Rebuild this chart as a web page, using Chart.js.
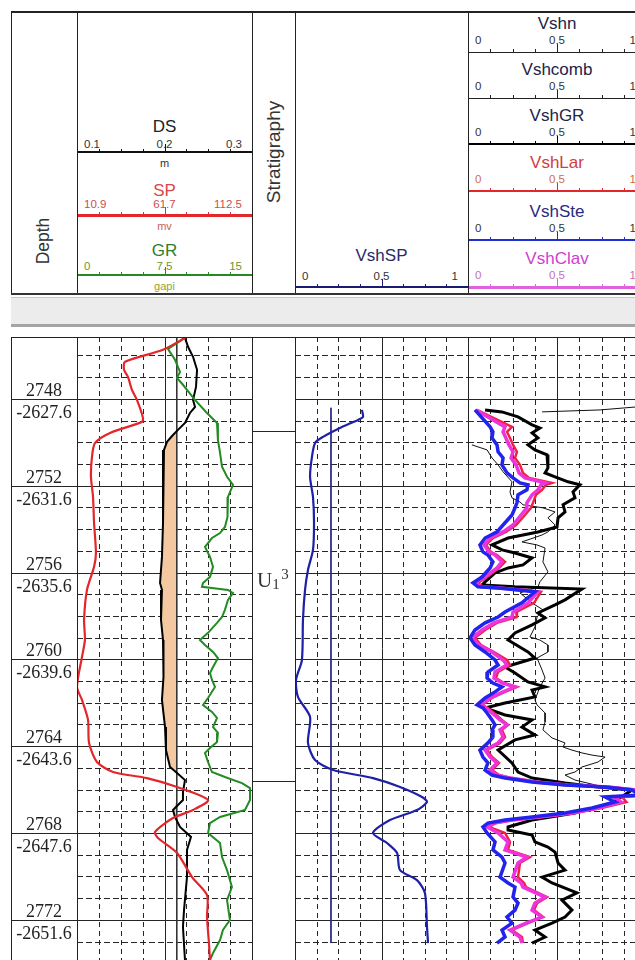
<!DOCTYPE html>
<html>
<head>
<meta charset="utf-8">
<title>Well log - shale volume</title>
<script src="https://cdn.jsdelivr.net/npm/chart.js@4.4.1/dist/chart.umd.min.js"></script>
<style>
  html, body { margin: 0; padding: 0; background: #fff; }
  #page { position: relative; width: 635px; height: 960px; overflow: hidden; background: #fff;
          font-family: "Liberation Sans", Arial, sans-serif; }
  .abs { position: absolute; }
  .t { position: absolute; line-height: 0; white-space: nowrap; }
  canvas { position: absolute; display: block; }
</style>
</head>
<body>
<div id="page"></div>
<script>
// ---------- data (depth in m) ----------
const dsRange = [0.1, 0.3];
const spRange = [10.9, 112.5];
const grRange = [0, 15];
const vshRange = [0, 1];

const mdMarks = [2748, 2752, 2756, 2760, 2764, 2768, 2772];
const tvdssMarks = [-2627.6, -2631.6, -2635.6, -2639.6, -2643.6, -2647.6, -2651.6];

const zoneTops = [2749.47, 2765.6];
const zoneLabelDepth = 2756.66;

const spDepth = [2745.19, 2745.74, 2746.29, 2746.66, 2746.99, 2747.59, 2748.05, 2748.88, 2749.06, 2749.57,
  2750.03, 2750.67, 2751.59, 2752.52, 2753.71, 2755.10, 2755.74, 2756.80, 2758.18, 2759.10,
  2759.89, 2761.27, 2761.87, 2762.79, 2763.85, 2764.73, 2765.19, 2765.47, 2765.88, 2766.48,
  2766.94, 2767.31, 2767.95, 2768.23, 2768.92, 2770.03, 2770.86, 2771.87, 2773.07, 2773.85];
const spValue = [73.6, 60.8, 38.8, 38.2, 40.5, 42.8, 45.7, 49.2, 48.6, 30.1,
  21.4, 19.6, 19.0, 20.2, 20.8, 21.9, 20.8, 16.7, 15.0, 15.5,
  13.8, 10.9, 13.8, 17.3, 17.9, 22.5, 31.8, 51.5, 69.0, 87.0,
  78.2, 66.6, 56.2, 57.9, 69.0, 77.7, 86.4, 86.4, 87.5, 88.1];

const grDepth = [2745.19, 2745.70, 2746.20, 2746.76, 2747.03, 2747.35, 2748.05, 2748.65, 2749.11, 2749.89,
  2750.49, 2751.13, 2751.59, 2751.96, 2752.52, 2752.98, 2753.44, 2753.90, 2754.18, 2754.41,
  2754.82, 2755.28, 2755.74, 2756.20, 2756.48, 2756.66, 2756.71, 2756.80, 2756.94, 2757.26,
  2757.72, 2758.05, 2758.32, 2758.78, 2759.11, 2759.34, 2759.66, 2759.94, 2760.35, 2760.63,
  2760.95, 2761.27, 2761.78, 2762.10, 2762.42, 2762.70, 2763.12, 2763.39, 2763.81, 2764.08,
  2764.31, 2764.73, 2765.19, 2765.42, 2765.70, 2765.93, 2766.48, 2766.94, 2767.26, 2767.54,
  2768.00, 2768.46, 2769.11, 2769.71, 2770.49, 2771.09, 2772.01, 2772.47, 2772.93, 2773.53, 2773.85];
const grValue = [9.26, 7.80, 8.40, 8.83, 8.57, 9.08, 10.11, 11.14, 12.00, 12.08,
  12.26, 12.43, 12.86, 13.37, 12.94, 12.86, 12.94, 12.68, 12.26, 11.57,
  10.97, 11.40, 11.66, 11.40, 10.80, 10.71, 11.57, 12.94, 13.37, 12.94,
  12.68, 12.43, 12.00, 11.23, 10.54, 10.97, 11.66, 12.08, 11.66, 11.40,
  11.57, 11.83, 11.23, 10.80, 11.57, 12.00, 11.66, 12.08, 12.00, 11.40,
  10.97, 11.23, 11.57, 12.68, 14.14, 14.83, 14.83, 14.40, 12.26, 11.40,
  11.23, 12.26, 12.43, 12.86, 13.28, 12.86, 13.11, 12.51, 12.26, 11.66, 11.40];

const dsDepth = [2745.19, 2745.60, 2746.06, 2746.66, 2747.45, 2748.05, 2748.37, 2748.65, 2749.11, 2749.43,
  2749.71, 2749.98, 2750.35, 2751.59, 2753.71, 2755.28, 2756.48, 2756.80, 2758.18, 2759.11,
  2760.03, 2760.81, 2761.87, 2763.12, 2764.18, 2764.96, 2765.24, 2765.56, 2766.11, 2766.48,
  2766.94, 2767.26, 2767.72, 2768.18, 2768.78, 2770.03, 2771.55, 2772.33, 2773.85];
const dsValue = [0.2234, 0.2269, 0.2326, 0.2372, 0.2360, 0.2326, 0.2349, 0.2291, 0.2234, 0.2154,
  0.2086, 0.2029, 0.1994, 0.1983, 0.1983, 0.1971, 0.1949, 0.1971, 0.1960, 0.1983,
  0.1994, 0.1983, 0.1971, 0.2006, 0.2017, 0.2063, 0.2143, 0.2234, 0.2211, 0.2211,
  0.2097, 0.2120, 0.2177, 0.2303, 0.2257, 0.2257, 0.2223, 0.2211, 0.2234];
const dsCutoff = 0.214;

const vshSPDepth = [2748.51, 2748.83, 2748.97, 2749.34, 2749.75, 2750.03, 2750.67, 2751.59, 2752.52, 2753.71,
  2754.96, 2755.88, 2756.80, 2758.18, 2760.03, 2760.95, 2761.73, 2762.65, 2763.85, 2764.64,
  2765.10, 2765.47, 2765.88, 2766.34, 2766.57, 2766.94, 2767.40, 2768.00, 2768.46, 2768.92,
  2769.71, 2770.17, 2770.76, 2772.33, 2773.07];
const vshSPValue = [0.387, 0.393, 0.364, 0.260, 0.162, 0.116, 0.098, 0.087, 0.104, 0.110,
  0.104, 0.075, 0.058, 0.046, 0.040, 0.006, 0.017, 0.087, 0.075, 0.116,
  0.220, 0.451, 0.607, 0.734, 0.763, 0.705, 0.549, 0.451, 0.532, 0.590,
  0.607, 0.705, 0.751, 0.763, 0.769];
const vshSPCutoff = 0.208;
const vshSPCutoffDepth = [2748.41, 2773.07];

const vshDepth = [2748.51, 2749.29, 2749.52, 2749.80, 2750.12, 2750.44, 2750.72, 2751.04, 2751.41, 2751.64,
  2751.87, 2751.96, 2752.19, 2752.42, 2752.79, 2753.02, 2753.35, 2753.81, 2754.13, 2754.41,
  2754.73, 2755.05, 2755.19, 2755.51, 2755.79, 2756.20, 2756.48, 2756.66, 2756.71, 2756.80,
  2756.89, 2757.40, 2757.82, 2758.05, 2758.32, 2758.65, 2759.01, 2759.34, 2759.66, 2760.03,
  2760.26, 2760.58, 2760.86, 2761.09, 2761.27, 2761.50, 2761.78, 2762.10, 2762.24, 2762.47,
  2762.79, 2763.02, 2763.25, 2763.58, 2763.85, 2764.18, 2764.50, 2764.77, 2765.10, 2765.33,
  2765.47, 2765.65, 2765.79, 2765.88, 2766.02, 2766.25, 2766.34, 2766.57, 2766.85, 2767.08,
  2767.26, 2767.40, 2767.54, 2767.72, 2768.00, 2768.41, 2768.78, 2769.11, 2769.38, 2770.03,
  2770.30, 2770.49, 2770.95, 2771.23, 2771.55, 2771.87, 2772.15, 2772.47, 2772.79, 2773.07];
const vshSte = [0.039, 0.124, 0.140, 0.135, 0.163, 0.169, 0.197, 0.191, 0.219, 0.253,
  0.292, 0.337, 0.331, 0.281, 0.275, 0.264, 0.247, 0.197, 0.163, 0.096,
  0.067, 0.084, 0.112, 0.140, 0.124, 0.079, 0.028, 0.056, 0.169, 0.281,
  0.376, 0.303, 0.208, 0.169, 0.096, 0.039, 0.011, 0.039, 0.096, 0.152,
  0.169, 0.112, 0.107, 0.140, 0.191, 0.152, 0.096, 0.051, 0.084, 0.107,
  0.135, 0.152, 0.135, 0.140, 0.112, 0.067, 0.084, 0.112, 0.096, 0.135,
  0.208, 0.360, 0.545, 0.770, 0.921, 0.966, 0.770, 0.826, 0.697, 0.545,
  0.360, 0.208, 0.112, 0.084, 0.107, 0.152, 0.140, 0.191, 0.208, 0.180,
  0.225, 0.264, 0.253, 0.281, 0.264, 0.219, 0.247, 0.191, 0.208, 0.163];
const vshClav = [0.045, 0.208, 0.197, 0.213, 0.230, 0.253, 0.242, 0.270, 0.287, 0.320,
  0.433, 0.410, 0.393, 0.360, 0.331, 0.331, 0.298, 0.253, 0.197, 0.124,
  0.090, 0.118, 0.152, 0.191, 0.163, 0.096, 0.039, 0.073, 0.180, 0.298,
  0.393, 0.337, 0.253, 0.247, 0.146, 0.079, 0.022, 0.062, 0.135, 0.197,
  0.219, 0.152, 0.146, 0.191, 0.264, 0.197, 0.124, 0.067, 0.101, 0.135,
  0.180, 0.219, 0.180, 0.197, 0.169, 0.096, 0.124, 0.163, 0.124, 0.163,
  0.236, 0.382, 0.562, 0.787, 0.944, 1.000, 0.820, 0.860, 0.730, 0.584,
  0.404, 0.247, 0.146, 0.107, 0.169, 0.225, 0.208, 0.331, 0.281, 0.253,
  0.298, 0.309, 0.433, 0.376, 0.360, 0.416, 0.326, 0.236, 0.292, 0.303];
const vshLar = [0.050, 0.247, 0.219, 0.236, 0.253, 0.275, 0.264, 0.292, 0.309, 0.343,
  0.472, 0.438, 0.416, 0.382, 0.365, 0.354, 0.320, 0.270, 0.213, 0.140,
  0.101, 0.129, 0.163, 0.208, 0.174, 0.107, 0.056, 0.084, 0.191, 0.309,
  0.410, 0.371, 0.270, 0.275, 0.163, 0.096, 0.039, 0.073, 0.146, 0.219,
  0.236, 0.169, 0.157, 0.202, 0.275, 0.208, 0.135, 0.079, 0.112, 0.146,
  0.191, 0.225, 0.191, 0.208, 0.180, 0.107, 0.135, 0.174, 0.135, 0.174,
  0.247, 0.393, 0.573, 0.798, 0.955, 1.020, 0.865, 0.890, 0.750, 0.601,
  0.416, 0.258, 0.157, 0.118, 0.208, 0.236, 0.225, 0.348, 0.292, 0.281,
  0.315, 0.326, 0.444, 0.388, 0.371, 0.421, 0.337, 0.247, 0.303, 0.309];

const vshGRDepth = [2748.51, 2748.60, 2748.83, 2749.20, 2749.34, 2749.57, 2749.80, 2750.12, 2750.35, 2750.58,
  2751.18, 2751.41, 2751.59, 2751.82, 2751.96, 2752.29, 2752.56, 2752.88, 2753.21, 2753.48,
  2753.90, 2754.13, 2754.41, 2754.73, 2754.96, 2755.10, 2755.33, 2755.65, 2755.79, 2756.02,
  2756.43, 2756.57, 2756.66, 2756.76, 2757.26, 2757.49, 2757.86, 2758.09, 2758.41, 2758.78,
  2759.11, 2759.66, 2759.94, 2760.35, 2760.63, 2761.04, 2761.27, 2761.41, 2761.73, 2762.01,
  2762.24, 2762.56, 2762.79, 2763.12, 2763.48, 2763.71, 2764.18, 2764.77, 2765.19, 2765.47,
  2765.70, 2765.88, 2766.02, 2766.62, 2767.08, 2767.40, 2767.72, 2767.86, 2768.09, 2768.41,
  2768.65, 2768.88, 2769.38, 2769.71, 2770.03, 2770.30, 2770.76, 2771.09, 2771.55, 2771.87,
  2772.15, 2772.47, 2772.79, 2773.07];
const vshGR = [0.096, 0.191, 0.281, 0.360, 0.404, 0.360, 0.393, 0.337, 0.376, 0.444,
  0.449, 0.433, 0.489, 0.562, 0.629, 0.590, 0.601, 0.534, 0.545, 0.506,
  0.500, 0.393, 0.225, 0.135, 0.191, 0.264, 0.360, 0.309, 0.225, 0.152,
  0.096, 0.079, 0.264, 0.640, 0.545, 0.489, 0.393, 0.433, 0.360, 0.264,
  0.225, 0.337, 0.376, 0.208, 0.264, 0.337, 0.433, 0.360, 0.376, 0.208,
  0.096, 0.208, 0.360, 0.303, 0.376, 0.264, 0.169, 0.247, 0.281, 0.360,
  0.545, 0.730, 0.921, 0.809, 0.601, 0.360, 0.225, 0.225, 0.360, 0.376,
  0.449, 0.489, 0.506, 0.545, 0.416, 0.472, 0.612, 0.528, 0.584, 0.545,
  0.472, 0.376, 0.433, 0.360];

const vshnDepth = [2748.60, 2748.51, 2748.30, 2749.00,
  2750.12, 2750.35, 2750.72, 2751.04, 2751.36, 2751.82, 2752.29, 2752.56, 2752.75, 2752.88,
  2753.02, 2753.21, 2753.48, 2753.81, 2754.13, 2754.27, 2754.59, 2754.73, 2754.87, 2755.51,
  2755.97, 2756.43, 2756.66, 2756.94, 2757.40, 2757.72, 2758.05, 2758.51, 2758.97, 2759.11,
  2759.34, 2759.66, 2759.94, 2760.49, 2760.86, 2761.27, 2761.87, 2762.10, 2762.47, 2762.88,
  2763.25, 2763.62, 2763.85, 2764.04, 2764.18, 2764.31, 2764.41, 2764.50, 2764.73, 2764.96,
  2765.19, 2765.33, 2765.56, 2765.84, 2766.02];
const vshn = [0.416, 0.742, 1.05, null,
  0.022, 0.107, 0.135, 0.169, 0.197, 0.247, 0.236, 0.247, 0.292, 0.309,
  0.421, 0.489, 0.449, 0.489, 0.449, 0.416, 0.303, 0.388, 0.433, 0.421,
  0.449, 0.404, 0.393, 0.292, 0.360, 0.421, 0.388, 0.376, 0.348, 0.404,
  0.449, 0.449, 0.388, 0.416, 0.433, 0.404, 0.376, 0.388, 0.433, 0.433,
  0.421, 0.472, 0.545, 0.534, 0.584, 0.640, 0.697, 0.770, 0.730, 0.640,
  0.601, 0.545, 0.601, 0.742, 0.910];

// ---------- layout ----------
const page = document.getElementById('page');
const logTop = 337, logBottom = 960;
const depthTop = 2745.15, depthBottom = 2773.85;

function rect(x, y, w, h, color) {
  const d = document.createElement('div');
  d.className = 'abs';
  d.style.cssText = `left:${x}px;top:${y}px;width:${w}px;height:${h}px;background:${color}`;
  page.appendChild(d);
  return d;
}

function txt(s, x, base, size, color, align, family) {
  const d = document.createElement('div');
  d.className = 't';
  d.textContent = s;
  d.style.left = x + 'px';
  d.style.top = (base - 0.35 * size) + 'px';
  d.style.fontSize = size + 'px';
  d.style.color = color;
  if (family) d.style.fontFamily = family;
  if (align === 'center') d.style.transform = 'translateX(-50%)';
  if (align === 'right') d.style.transform = 'translateX(-100%)';
  page.appendChild(d);
  return d;
}

function vtxt(s, cx, cy, size, color) {
  const d = document.createElement('div');
  d.className = 'abs';
  d.textContent = s;
  d.style.cssText = `left:${cx}px;top:${cy}px;font-size:${size}px;color:${color};line-height:1;white-space:nowrap;transform:translate(-50%,-50%) rotate(-90deg)`;
  page.appendChild(d);
}

const fmt = v => String(+v.toFixed(2));

// header scale: coloured line, 1/8 ticks, min / mid / max labels, title and unit
function headerScale(left, width, lineY, range, o) {
  rect(left, lineY - Math.floor(o.lw / 2), width, o.lw, o.color);
  for (let k = 1; k < 8; k++) {
    const h = k === 4 ? 8 : 3;
    rect(Math.round(left + width * k / 8), lineY - h, 1, h + 1, o.color);
  }
  txt(o.title, left + width / 2, lineY - o.titleOff, 17, o.titleColor, 'center');
  const mid = (range[0] + range[1]) / 2;
  txt(fmt(range[0]), left + 7, lineY - o.valOff, 11.5, o.valColor, 'left');
  txt(fmt(mid), left + width / 2, lineY - o.valOff, 11.5, o.valColor, 'center');
  txt(fmt(range[1]), left + width - 10, lineY - o.valOff, 11.5, o.valColor, 'right');
  if (o.unit) txt(o.unit, left + width / 2, lineY + o.unitOff, 11, o.unitColor, 'center');
}

// track 1 header
headerScale(77, 175, 152, dsRange, { lw: 2, color: '#111', title: 'DS', titleOff: 19, titleColor: '#222',
  valOff: 4, valColor: '#333', unit: 'm', unitOff: 15, unitColor: '#333' });
headerScale(77, 175, 215, spRange, { lw: 3, color: '#e3262b', title: 'SP', titleOff: 18, titleColor: '#d84848',
  valOff: 7, valColor: '#c85050', unit: 'mv', unitOff: 15, unitColor: '#c86060' });
headerScale(77, 175, 275, grRange, { lw: 2, color: '#228b22', title: 'GR', titleOff: 18, titleColor: '#2e7d2e',
  valOff: 5, valColor: '#6a9a2a', unit: 'gapi', unitOff: 15, unitColor: '#9aa030' });

// VshSP header
headerScale(295, 173, 287, vshRange, { lw: 2, color: '#1a1a70', title: 'VshSP', titleOff: 25, titleColor: '#2a2a6a',
  valOff: 7, valColor: '#333' });

// Vsh headers
const vshHeads = [
  ['Vshn', 52, 1, '#222', '#23234a', '#333'],
  ['Vshcomb', 98, 1, '#222', '#23234a', '#333'],
  ['VshGR', 144, 2, '#000', '#23234a', '#333'],
  ['VshLar', 191, 2, '#e3262b', '#d04040', '#c87050'],
  ['VshSte', 240, 2, '#2030d0', '#2a2a80', '#333'],
  ['VshClav', 287, 3, '#e060e0', '#d040d0', '#c070c0']
];
vshHeads.forEach(h => headerScale(468, 178, h[1], vshRange, { lw: h[2], color: h[3], title: h[0], titleOff: 22,
  titleColor: h[4], valOff: 8, valColor: h[5] }));

vtxt('Depth', 44, 241, 17.5, '#333');
vtxt('Stratigraphy', 273, 152, 19, '#333');

// ---------- log tracks ----------
function gridPlugin(opt) {
  return {
    id: 'logGrid',
    beforeDatasetsDraw(chart) {
      const { ctx, chartArea: a } = chart;
      const y = chart.scales.y, x = chart.scales.x;
      ctx.save();
      ctx.strokeStyle = '#262626';
      ctx.lineWidth = 1;
      for (let d = Math.ceil(depthTop); d <= depthBottom; d++) {
        const major = d % 4 === 0;
        if (!major && !opt.minor) continue;
        if (!opt.major) continue;
        const py = Math.round(y.getPixelForValue(d)) + 0.5;
        ctx.setLineDash(major ? [] : [6, 3]);
        ctx.beginPath(); ctx.moveTo(a.left, py); ctx.lineTo(a.right, py); ctx.stroke();
      }
      if (opt.divs) {
        for (let k = 1; k < opt.divs; k++) {
          const px = Math.round(x.getPixelForValue(x.min + (x.max - x.min) * k / opt.divs)) + 0.5;
          ctx.setLineDash(k * 2 === opt.divs ? [] : [5, 4]);
          ctx.beginPath(); ctx.moveTo(px, a.top); ctx.lineTo(px, a.bottom); ctx.stroke();
        }
      }
      ctx.restore();
    },
    afterDatasetsDraw(chart) { if (opt.after) opt.after(chart); }
  };
}

function pts(depths, values) {
  return depths.map((d, i) => ({ x: values[i], y: d }));
}

function curve(label, depths, values, color, width, extra) {
  return Object.assign({ label, data: pts(depths, values), showLine: true, borderColor: color,
    borderWidth: width, pointRadius: 0, tension: 0, fill: false }, extra || {});
}

function track(left, width, xScales, datasets, opt) {
  const c = document.createElement('canvas');
  c.width = width; c.height = logBottom - logTop;
  c.style.left = left + 'px'; c.style.top = logTop + 'px';
  page.appendChild(c);
  const scales = { y: { type: 'linear', reverse: true, min: depthTop, max: depthBottom, display: false } };
  for (const k in xScales) {
    scales[k] = { type: 'linear', axis: 'x', position: 'bottom', min: xScales[k][0], max: xScales[k][1], display: false };
  }
  return new Chart(c, {
    type: 'scatter',
    data: { datasets },
    options: {
      responsive: false, animation: false, events: [],
      layout: { padding: 0 },
      plugins: { legend: { display: false }, tooltip: { enabled: false } },
      scales
    },
    plugins: [gridPlugin(opt)]
  });
}

// depth track
track(11, 66, { x: [0, 1] }, [], {
  major: true, minor: false,
  after(chart) {
    const { ctx } = chart, y = chart.scales.y, cx = chart.width / 2;
    ctx.save();
    ctx.fillStyle = '#222';
    ctx.font = '18px "Liberation Serif", "Times New Roman", serif';
    ctx.textAlign = 'center';
    mdMarks.forEach((md, i) => {
      const py = y.getPixelForValue(md);
      ctx.fillText(String(md), cx, py - 3);
      ctx.fillText(tvdssMarks[i].toFixed(1), cx, py + 19);
    });
    ctx.restore();
  }
});

// track 1: DS, SP, GR with DS cutoff shading
const dsFill = dsDepth.map((d, i) => ({ x: Math.min(dsValue[i], dsCutoff), y: d }));
dsFill.push({ x: dsCutoff, y: dsDepth[dsDepth.length - 1] }, { x: dsCutoff, y: dsDepth[0] });
track(77, 175, { x: dsRange, xSP: spRange, xGR: grRange }, [
  curve('SP', spDepth, spValue, '#e3262b', 2.2, { xAxisID: 'xSP', tension: 0.25 }),
  curve('GR', grDepth, grValue, '#228b22', 2, { xAxisID: 'xGR' }),
  curve('DS', dsDepth, dsValue, '#000', 2),
  { label: 'DS cutoff', data: [{ x: dsCutoff, y: depthTop }, { x: dsCutoff, y: depthBottom }], showLine: true,
    borderColor: '#333', borderWidth: 1, pointRadius: 0 },
  { label: 'DS fill', data: dsFill, showLine: true, borderColor: 'rgba(0,0,0,0)', borderWidth: 1,
    pointRadius: 0, fill: 'shape', backgroundColor: '#f4c9a2' }
], { major: true, minor: true, divs: 8 });

// stratigraphy track
track(252, 43, { x: [0, 1] }, [], {
  major: false,
  after(chart) {
    const { ctx, chartArea: a } = chart, y = chart.scales.y;
    ctx.save();
    ctx.strokeStyle = '#262626';
    ctx.lineWidth = 1;
    zoneTops.forEach(d => {
      const py = Math.round(y.getPixelForValue(d)) + 0.5;
      ctx.beginPath(); ctx.moveTo(a.left, py); ctx.lineTo(a.right, py); ctx.stroke();
    });
    const base = y.getPixelForValue(zoneLabelDepth);
    ctx.fillStyle = '#333';
    ctx.font = '21px "Liberation Serif", "Times New Roman", serif';
    ctx.fillText('U', 5, base);
    const wU = ctx.measureText('U').width;
    ctx.font = '15px "Liberation Serif", "Times New Roman", serif';
    ctx.fillText('1', 5 + wU, base + 2);
    ctx.fillText('3', 5 + wU + 9, base - 8);
    ctx.restore();
  }
});

// VshSP track
track(295, 173, { x: vshRange }, [
  curve('VshSP', vshSPDepth, vshSPValue, '#1f1fa8', 2.2, { tension: 0.25 }),
  { label: 'VshSP cutoff', data: vshSPCutoffDepth.map(d => ({ x: vshSPCutoff, y: d })), showLine: true,
    borderColor: '#2a2a8a', borderWidth: 1, pointRadius: 0 }
], { major: true, minor: true, divs: 8 });

// Vsh comparison track
track(468, 178, { x: vshRange }, [
  curve('VshSte', vshDepth, vshSte, '#2323ee', 3.5),
  curve('VshClav', vshDepth, vshClav, '#ee33dd', 3.5),
  curve('VshLar', vshDepth, vshLar, '#ee2244', 2.5),
  curve('VshGR', vshGRDepth, vshGR, '#000', 3),
  curve('Vshn', vshnDepth, vshn, '#111', 1)
], { major: true, minor: true, divs: 8 });

// ---------- frame ----------
// header frame
rect(11, 11, 624, 2, '#222');
[11, 77, 252, 295, 468].forEach(x => rect(x, 11, 1, 284, '#222'));
// separator band
rect(11, 293, 624, 2, '#333');
rect(11, 297, 624, 1, '#c8c8c8');
rect(11, 298, 624, 26, '#ececec');
rect(11, 324, 624, 3, '#a5a5a5');
// log frame
rect(11, 337, 624, 1, '#222');
[11, 77, 252, 295, 468].forEach(x => rect(x, 337, 1, 623, '#222'));
</script>
</body>
</html>
